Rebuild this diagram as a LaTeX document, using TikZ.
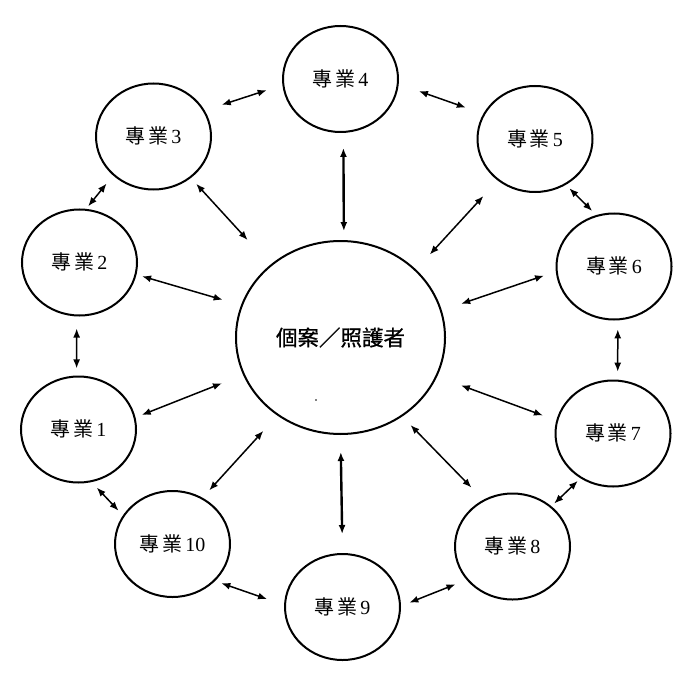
\documentclass[tikz,border=0pt]{standalone}
\usepackage{fontspec}
\setmainfont{Liberation Serif}
\newfontfamily\cjkl[LetterSpace=14]{Noto Sans CJK TC}
\newfontfamily\cjkc[FakeBold=0.8]{Noto Sans CJK TC}
\usetikzlibrary{shapes.geometric,arrows.meta}
\tikzset{
 prof/.style={ellipse, draw, line width=2pt, minimum width=115pt, minimum height=106pt, inner sep=0pt},
 hub/.style={ellipse, draw, line width=2pt, minimum width=209pt, minimum height=193pt, inner sep=0pt,
   font=\cjkc\fontsize{21.5}{24}\selectfont},
 link/.style={{Latex[length=9pt,width=7pt]}-{Latex[length=9pt,width=7pt]}, line width=1.5pt},
 strong link/.style={link, line width=2.4pt}
}
\newcommand{\prl}[1]{\raisebox{2pt}{{\fontsize{20}{22}\selectfont\cjkl 專業}\hspace{3pt}{\fontsize{20}{22}\selectfont #1}}}
\begin{document}
\begin{tikzpicture}[x=1pt,y=-1pt]
\useasboundingbox (0,0) rectangle (692,676);
\node[hub] (c) at (340.5,337.5) {個案／照護者};
\node[prof] (n4) at (340.5,79) {\prl{4}};
\node[prof] (n3) at (153.5,136.5) {\prl{3}};
\node[prof] (n5) at (535,139) {\prl{5}};
\node[prof] (n2) at (79.5,262.5) {\prl{2}};
\node[prof] (n6) at (614,266.5) {\prl{6}};
\node[prof] (n1) at (78.5,429.5) {\prl{1}};
\node[prof] (n7) at (613,433.5) {\prl{7}};
\node[prof] (n10) at (172.5,544) {\prl{10}};
\node[prof] (n8) at (512.5,546.5) {\prl{8}};
\node[prof] (n9) at (342.5,607) {\prl{9}};

\draw[link, shorten <=17.9pt, shorten >=16.5pt] (n3.27) -- (n4.186);
\draw[link, shorten <=21.4pt, shorten >=18.5pt] (n4.-5) -- (n5.154);
\draw[link, shorten <=10.3pt, shorten >=3.3pt] (n3.224) -- (n2.83);
\draw[link, shorten <=7.8pt, shorten >=33.5pt] (n3.-48) -- (c.134);
\draw[link, shorten <=5.8pt, shorten >=19.1pt] (n2.-12) -- (c.162);
\draw[link, shorten <=12.1pt, shorten >=7.1pt] (n2.-93) -- (n1.92);
\draw[link, shorten <=6.7pt, shorten >=22.7pt] (n1.12) -- (c.201);
\draw[link, shorten <=7.5pt, shorten >=6.4pt] (n1.-76) -- (n10.150);
\draw[link, shorten <=9.9pt, shorten >=20.7pt] (n10.57) -- (c.231);
\draw[link, shorten <=6.6pt, shorten >=18pt] (n10.-41) -- (n9.178);
\draw[strong link, shorten <=19pt, shorten >=17pt] (n9.90) -- (c.-90);
\draw[strong link, shorten <=15pt, shorten >=9pt] (n4.-87) -- (c.88);
\draw[link, shorten <=21pt, shorten >=20.3pt] (n5.228) -- (c.42);
\draw[link, shorten <=4.9pt, shorten >=5.8pt] (n5.-56) -- (n6.109);
\draw[link, shorten <=12.4pt, shorten >=20.5pt] (n6.185) -- (c.15);
\draw[link, shorten <=9pt, shorten >=8pt] (n6.-86) -- (n7.85);
\draw[link, shorten <=14.2pt, shorten >=25.3pt] (n7.167) -- (c.-22);
\draw[link, shorten <=16.9pt, shorten >=11.8pt] (n8.122) -- (c.-52);
\draw[link, shorten <=3.6pt, shorten >=3.8pt] (n7.234) -- (n8.46);
\draw[link, shorten <=9pt, shorten >=11.9pt] (n9.1) -- (n8.216);
\fill (316,400) circle (0.9pt);
\end{tikzpicture}
\end{document}
